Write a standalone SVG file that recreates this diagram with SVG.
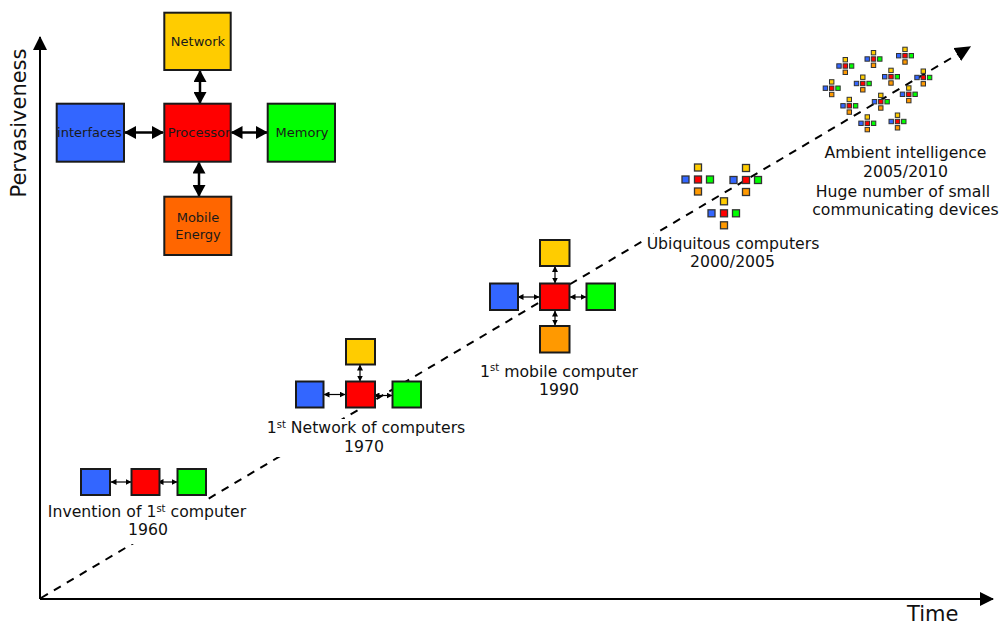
<svg xmlns="http://www.w3.org/2000/svg" xmlns:xlink="http://www.w3.org/1999/xlink" width="999" height="625" viewBox="0 0 999 625">
  <style>
    text { font-family: "DejaVu Sans", "Liberation Sans", sans-serif; fill: #111; }
    .lbl { font-size: 15.7px; text-anchor: middle; }
    .sup { font-size: 10px; }
    .blk { font-size: 13px; text-anchor: middle; fill: #1a1a1a; }
    .ax { font-size: 21px; }
    .bg { fill: #fff; }
    .box { stroke: #1a1a1a; stroke-width: 2; }
    .mbox { stroke: #333; stroke-width: 1.3; }
    .tbox { stroke: #333; stroke-width: 1; }
    .y { fill: #FFCC00; } .r { fill: #FF0000; } .b { fill: #3366FF; }
    .g { fill: #00FF00; } .o { fill: #FF9900; } .o2 { fill: #FF6600; }
    .big { stroke: #000; stroke-width: 2.5; fill: none; marker-start: url(#hb); marker-end: url(#hb); }
    .sml { stroke: #000; stroke-width: 1.2; fill: none; marker-start: url(#hs); marker-end: url(#hs); }
  </style>
  <defs>
    <marker id="hb" markerUnits="userSpaceOnUse" viewBox="0 0 12 13" markerWidth="12" markerHeight="13" refX="11" refY="6.5" orient="auto-start-reverse">
      <path d="M0,0 L12,6.5 L0,13 z" fill="#000"/>
    </marker>
    <marker id="hs" markerUnits="userSpaceOnUse" viewBox="0 0 6 6" markerWidth="6" markerHeight="6" refX="5.5" refY="3" orient="auto-start-reverse">
      <path d="M0,0 L6,3 L0,6 z" fill="#000"/>
    </marker>
    <marker id="ha" markerUnits="userSpaceOnUse" viewBox="0 0 14 14" markerWidth="14" markerHeight="14" refX="13" refY="7" orient="auto">
      <path d="M0,0 L14,7 L0,14 z" fill="#000"/>
    </marker>
    <marker id="hd" markerUnits="userSpaceOnUse" viewBox="0 0 16 15" markerWidth="16" markerHeight="15" refX="2" refY="7.5" orient="auto">
      <path d="M0,0 L16,7.5 L0,15 z" fill="#000"/>
    </marker>
    <!-- five-box computer, 7px boxes -->
    <g id="mini">
      <rect class="mbox y" x="-3.5" y="-15.5" width="7" height="7"/>
      <rect class="mbox b" x="-16" y="-3.5" width="7" height="7"/>
      <rect class="mbox r" x="-3.5" y="-3.5" width="7" height="7"/>
      <rect class="mbox g" x="8.5" y="-3.5" width="7" height="7"/>
      <rect class="mbox o" x="-3.5" y="8.5" width="7" height="7"/>
    </g>
    <!-- five-box computer, tiny -->
    <g id="tiny">
      <rect class="tbox y" x="-2.2" y="-8.5" width="4.4" height="4.4"/>
      <rect class="tbox b" x="-8.5" y="-2.2" width="4.4" height="4.4"/>
      <rect class="tbox r" x="-2.2" y="-2.2" width="4.4" height="4.4"/>
      <rect class="tbox g" x="4.1" y="-2.2" width="4.4" height="4.4"/>
      <rect class="tbox o" x="-2.2" y="4.1" width="4.4" height="4.4"/>
    </g>
  </defs>

  <!-- axes -->
  <g id="axes" stroke="#000" stroke-width="2" fill="none">
    <line x1="40" y1="599" x2="40" y2="37" marker-end="url(#ha)"/>
    <line x1="40" y1="599" x2="993" y2="599" marker-end="url(#ha)"/>
  </g>
  <text class="ax" transform="translate(26,123) rotate(-90)" text-anchor="middle">Pervasiveness</text>
  <text class="ax" x="907" y="621">Time</text>

  <g id="connectors">
    <!-- trend line -->
    <path d="M41,598 L959,53.5" stroke="#000" stroke-width="2" stroke-dasharray="8 7" fill="none" marker-end="url(#hd)"/>

    <!-- architecture diagram links -->
    <line class="big" x1="200" y1="71" x2="200" y2="103"/>
    <line class="big" x1="125" y1="132.5" x2="163" y2="132.5"/>
    <line class="big" x1="231.5" y1="132.5" x2="267" y2="132.5"/>
    <line class="big" x1="199" y1="162.5" x2="199" y2="196"/>

    <!-- 1960 links -->
    <line class="sml" x1="111" y1="482" x2="131" y2="482"/>
    <line class="sml" x1="158" y1="482" x2="177" y2="482"/>
    <!-- 1970 links -->
    <line class="sml" x1="360" y1="365" x2="360" y2="381"/>
    <line class="sml" x1="324" y1="394.5" x2="345" y2="394.5"/>
    <line class="sml" x1="374" y1="395.5" x2="392" y2="395.5"/>
    <!-- 1990 links -->
    <line class="sml" x1="555" y1="266.5" x2="555" y2="283"/>
    <line class="sml" x1="518" y1="297" x2="539" y2="297"/>
    <line class="sml" x1="570" y1="297" x2="586" y2="297"/>
    <line class="sml" x1="555" y1="311" x2="555" y2="325"/>
  </g>

  <!-- architecture of a computer -->
  <g id="network">
    <rect class="box y" x="164.3" y="12.7" width="66.4" height="57.3"/>
    <text class="blk" x="198" y="46">Network</text>
  </g>
  <g id="processor">
    <rect class="box r" x="164.3" y="103.7" width="66.4" height="58"/>
    <text class="blk" x="199" y="137">Processor</text>
  </g>
  <g id="interfaces">
    <rect class="box b" x="56.7" y="103.7" width="67.3" height="58"/>
    <text class="blk" x="89.5" y="137">interfaces</text>
  </g>
  <g id="memory">
    <rect class="box g" x="267.7" y="103.7" width="67.3" height="58"/>
    <text class="blk" x="302" y="137">Memory</text>
  </g>
  <g id="mobile-energy">
    <rect class="box o2" x="164.3" y="196.7" width="67" height="58.3"/>
    <text class="blk" x="198" y="222">Mobile</text>
    <text class="blk" x="198" y="239">Energy</text>
  </g>

  <!-- 1960 -->
  <g id="first-computer">
    <rect class="box b" x="81" y="469" width="29" height="26"/>
    <rect class="box r" x="131.5" y="469" width="28" height="26"/>
    <rect class="box g" x="177.5" y="469" width="28.5" height="26"/>
    <rect class="bg" x="45" y="501" width="204" height="43"/>
    <text class="lbl" x="147" y="517">Invention of 1<tspan class="sup" dy="-5.5">st</tspan><tspan dy="5.5"> computer</tspan></text>
    <text class="lbl" x="148" y="535">1960</text>
  </g>

  <!-- 1970 -->
  <g id="first-network">
    <rect class="box y" x="346" y="339" width="29" height="25.5"/>
    <rect class="box b" x="296" y="381.5" width="27.5" height="26"/>
    <rect class="box r" x="346" y="381.5" width="29" height="26"/>
    <rect class="box g" x="392.5" y="381.5" width="28.5" height="26"/>
    <rect class="bg" x="265" y="419" width="203" height="38"/>
    <text class="lbl" x="366" y="433">1<tspan class="sup" dy="-5.5">st</tspan><tspan dy="5.5"> Network of computers</tspan></text>
    <text class="lbl" x="364" y="451.5">1970</text>
  </g>

  <!-- 1990 -->
  <g id="first-mobile">
    <rect class="box y" x="540" y="240" width="29.5" height="26"/>
    <rect class="box b" x="490" y="283.5" width="28" height="26.5"/>
    <rect class="box r" x="540" y="283.5" width="29.5" height="26.5"/>
    <rect class="box g" x="586.5" y="283.5" width="28.5" height="26.5"/>
    <rect class="box o" x="540" y="326" width="29.5" height="26.5"/>
    <text class="lbl" x="559" y="376.5">1<tspan class="sup" dy="-5.5">st</tspan><tspan dy="5.5"> mobile computer</tspan></text>
    <text class="lbl" x="559" y="395">1990</text>
  </g>

  <!-- 2000/2005 -->
  <g id="ubiquitous">
    <use xlink:href="#mini" x="698" y="179.5"/>
    <use xlink:href="#mini" x="746" y="180"/>
    <use xlink:href="#mini" x="724" y="213.3"/>
    <rect class="bg" x="645" y="234" width="178" height="38"/>
    <text class="lbl" x="733" y="249">Ubiquitous computers</text>
    <text class="lbl" x="732.5" y="267">2000/2005</text>
  </g>

  <!-- 2005/2010 -->
  <g id="ambient">
    <use xlink:href="#tiny" x="845.3" y="66"/>
    <use xlink:href="#tiny" x="873.5" y="59"/>
    <use xlink:href="#tiny" x="905" y="55.7"/>
    <use xlink:href="#tiny" x="831.7" y="88.2"/>
    <use xlink:href="#tiny" x="862.8" y="83.5"/>
    <use xlink:href="#tiny" x="891" y="76.7"/>
    <use xlink:href="#tiny" x="923.3" y="77.5"/>
    <use xlink:href="#tiny" x="849.3" y="105.8"/>
    <use xlink:href="#tiny" x="880.8" y="101.7"/>
    <use xlink:href="#tiny" x="908.8" y="94.3"/>
    <use xlink:href="#tiny" x="867.3" y="123.3"/>
    <use xlink:href="#tiny" x="897.5" y="121.5"/>
    <text class="lbl" x="905.5" y="158.3">Ambient intelligence</text>
    <text class="lbl" x="905.5" y="176.7">2005/2010</text>
    <text class="lbl" x="903" y="196.7">Huge number of small</text>
    <text class="lbl" x="905.4" y="215">communicating devices</text>
  </g>
</svg>
